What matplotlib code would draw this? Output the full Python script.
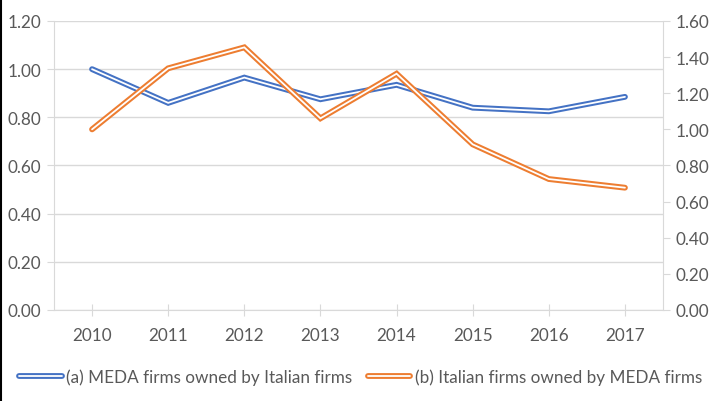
import matplotlib
matplotlib.use("Agg")
import matplotlib.pyplot as plt
import matplotlib.patheffects as pe
from matplotlib.lines import Line2D

plt.rcParams['font.family'] = ['Lato', 'DejaVu Sans']

years = ['2010', '2011', '2012', '2013', '2014', '2015', '2016', '2017']
meda_owned_by_italian = [1.00, 0.86, 0.965, 0.875, 0.935, 0.84, 0.825, 0.885]
italian_owned_by_meda = [1.00, 1.338, 1.454, 1.061, 1.308, 0.917, 0.725, 0.677]

blue = '#4472c4'
orange = '#ed7d31'
grid_col = '#d9d9d9'
text_col = '#595959'

fig = plt.figure(figsize=(7.17, 4.02), dpi=100)
ax = fig.add_axes([0.0753, 0.2264, 0.8494, 0.7189])
ax2 = ax.twinx()

x = list(range(len(years)))


def double_line(axis, ys, color, label):
    return axis.plot(x, ys, color='white', lw=1.3, label=label,
                     solid_capstyle='round', solid_joinstyle='miter', zorder=3,
                     path_effects=[pe.Stroke(linewidth=4.2, foreground=color,
                                             capstyle='round', joinstyle='miter'),
                                   pe.Normal()])[0]


l1 = double_line(ax, meda_owned_by_italian, blue, '(a) MEDA firms owned by Italian firms')
l2 = double_line(ax2, italian_owned_by_meda, orange, '(b) Italian firms owned by MEDA firms')

ax.set_xlim(-0.5, len(years) - 0.5)
ax.set_ylim(0, 1.2)
ax2.set_ylim(0, 1.6)
ax.set_yticks([0, 0.2, 0.4, 0.6, 0.8, 1.0, 1.2])
ax2.set_yticks([0, 0.2, 0.4, 0.6, 0.8, 1.0, 1.2, 1.4, 1.6])
ax.set_yticklabels([f'{v:.2f}' for v in ax.get_yticks()])
ax2.set_yticklabels([f'{v:.2f}' for v in ax2.get_yticks()])
ax.set_xticks(x)
ax.set_xticklabels(years)

ax.yaxis.grid(True, color=grid_col, lw=1)
ax.set_axisbelow(True)

for a in (ax, ax2):
    for s in a.spines.values():
        s.set_visible(False)
ax.spines['left'].set_visible(True)
ax.spines['left'].set_color(grid_col)
ax.spines['bottom'].set_visible(True)
ax.spines['bottom'].set_color(grid_col)
ax2.spines['right'].set_visible(True)
ax2.spines['right'].set_color(grid_col)

fs = 12.3
ax.tick_params(axis='y', colors=grid_col, labelcolor=text_col, labelsize=fs, length=5, pad=4)
ax2.tick_params(axis='y', colors=grid_col, labelcolor=text_col, labelsize=fs, length=5, pad=4)
ax.tick_params(axis='x', colors=grid_col, labelcolor=text_col, labelsize=fs,
               direction='inout', length=8, pad=8)

fig.legend(handles=[l1, l2], loc='center', bbox_to_anchor=(0.503, 0.06), ncol=2,
           frameon=False, fontsize=fs, labelcolor=text_col, handlelength=2.5,
           columnspacing=0.9, handletextpad=0.25)

fig.add_artist(Line2D([0.001, 0.001], [0, 1], color='black', lw=1.5))

fig.savefig('out.png', dpi=100)
